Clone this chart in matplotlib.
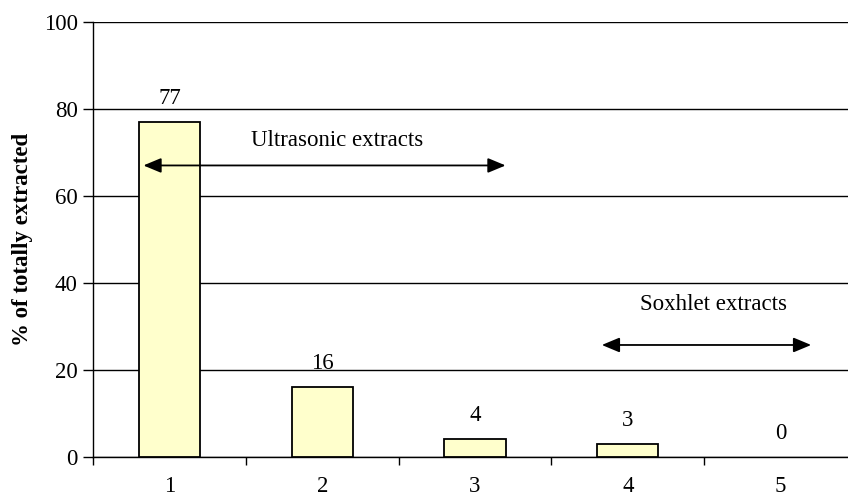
import matplotlib
matplotlib.use("Agg")
import matplotlib.pyplot as plt

categories = ["1", "2", "3", "4", "5"]
values = [77, 16, 4, 3, 0]
y_ticks = [0, 20, 40, 60, 80, 100]

plt.rcParams["font.family"] = ["Liberation Serif", "DejaVu Serif"]
FS = 16.5

fig = plt.figure(figsize=(8.48, 4.99), dpi=100)
ax = fig.add_axes([93 / 848, 1 - 456.7 / 499, (857 - 93) / 848, (456.7 - 22) / 499])

pos = list(range(1, len(categories) + 1))
edges = ["black" if v > 0 else "none" for v in values]
ax.bar(pos, values, width=0.4, color="#FFFFCC", edgecolor=edges, linewidth=1.3, zorder=3)

for p, v in zip(pos, values):
    ax.text(p, v + 3.0, str(v), ha="center", va="bottom", fontsize=FS)

ax.set_xlim(0.5, 5.5)
ax.set_ylim(0, 100)
ax.set_yticks(y_ticks)
ax.set_xticks([p - 0.5 for p in pos] + [5.5])
ax.set_xticklabels([])
ax.set_xticks(pos, minor=True)
ax.set_xticklabels(categories, minor=True)
ax.tick_params(axis="x", which="minor", length=0, pad=14, labelsize=FS)
ax.tick_params(axis="x", which="major", length=6, width=1, direction="out")
ax.tick_params(axis="y", length=7, width=1, labelsize=FS, pad=4)

ax.yaxis.grid(True, color="black", linewidth=1, zorder=0)
ax.set_axisbelow(True)
for s in ("top", "right"):
    ax.spines[s].set_visible(False)
for s in ("left", "bottom"):
    ax.spines[s].set_linewidth(1)

ax.set_ylabel("% of totally extracted", fontsize=FS, fontweight="bold", labelpad=8)

arrow_style = dict(arrowstyle="<|-|>,head_length=0.6,head_width=0.25",
                   color="black", lw=1.3, mutation_scale=18, shrinkA=0, shrinkB=0)
ax.annotate("", xy=(0.83, 67), xytext=(3.2, 67), arrowprops=arrow_style, zorder=5)
ax.text(2.10, 72.8, "Ultrasonic extracts", ha="center", va="center", fontsize=FS)
ax.annotate("", xy=(3.83, 25.7), xytext=(5.2, 25.7), arrowprops=arrow_style, zorder=5)
ax.text(4.56, 34.9, "Soxhlet extracts", ha="center", va="center", fontsize=FS)

fig.savefig("out.png", dpi=100)
